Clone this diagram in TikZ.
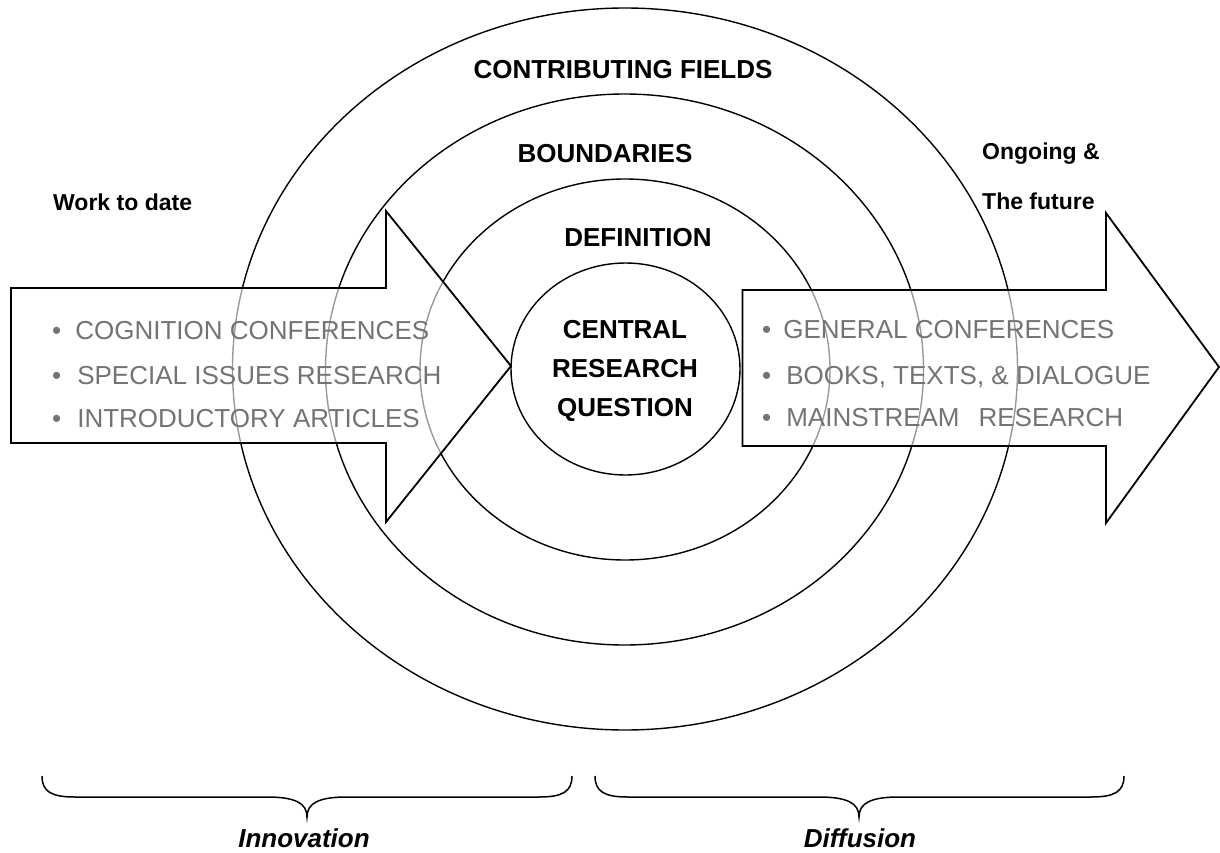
\documentclass[tikz,border=0pt]{standalone}
\usepackage{fontspec}
\setmainfont{Liberation Sans}
\begin{document}
\begin{tikzpicture}[x=1pt,y=-1pt,
  ring/.style={line width=1.4pt},
  bigarrow/.style={line width=1.8pt, line join=miter, fill=white, fill opacity=0.6},
  lbl/.style={font=\fontsize{26}{30}\selectfont\bfseries, inner sep=0pt},
  side/.style={font=\fontsize{23}{28}\selectfont\bfseries, inner sep=0pt, anchor=west},
  item/.style={font=\fontsize{26}{30}\selectfont, text=black!55, inner sep=0pt, anchor=base west},
  brace/.style={line width=1.5pt},
  bracelbl/.style={font=\fontsize{26}{30}\selectfont\bfseries\itshape, inner sep=0pt}
]
\useasboundingbox (0,0) rectangle (1220,853);
\fill[white] (0,0) rectangle (1220,853);

% concentric rings
\draw[ring] (625,369) ellipse [x radius=392.5pt, y radius=361pt];
\draw[ring] (624.5,369.5) ellipse [x radius=299pt, y radius=275.5pt];
\draw[ring] (625,369.5) ellipse [x radius=205pt, y radius=190.5pt];
\draw[ring] (625.5,369) ellipse [x radius=114.5pt, y radius=106pt];

% arrows
\coordinate (la1) at (11,288);
\coordinate (la2) at (386,288);
\coordinate (la3) at (386,211);
\coordinate (latip) at (511,366);
\coordinate (la5) at (386,522);
\coordinate (la6) at (386,443);
\coordinate (la7) at (11,443);
\draw[bigarrow] (la1) -- (la2) -- (la3) -- (latip) -- (la5) -- (la6) -- (la7) -- cycle;

\coordinate (ra1) at (742.5,290);
\coordinate (ra2) at (1106,290);
\coordinate (ra3) at (1106,213);
\coordinate (ratip) at (1219,367);
\coordinate (ra5) at (1106,523);
\coordinate (ra6) at (1106,446);
\coordinate (ra7) at (742.5,446);
\draw[bigarrow] (ra1) -- (ra2) -- (ra3) -- (ratip) -- (ra5) -- (ra6) -- (ra7) -- cycle;

% ring labels
\node[lbl] (cf) at (623,70) {CONTRIBUTING FIELDS};
\node[lbl] (bd) at (605,154) {BOUNDARIES};
\node[lbl] (df) at (638,238) {DEFINITION};
\node[lbl, align=center, font=\fontsize{26}{39}\selectfont\bfseries] (crq) at (625,371) {CENTRAL\\RESEARCH\\QUESTION};

% side labels
\node[side] (wtd) at (53,202) {Work to date};
\node[side] (ong) at (982,154) {Ongoing \&};
\node[side] (fut) at (982,201) {The future};

% bullet items
\node[item] (l1) at (52,339) {•\hspace{14pt}COGNITION CONFERENCES};
\node[item] (l2) at (52,384) {•\hspace{16pt}SPECIAL ISSUES RESEARCH};
\node[item] (l3) at (52,427) {•\hspace{16pt}INTRODUCTORY ARTICLES};
\node[item] (r1) at (762,338) {•\hspace{12pt}GENERAL CONFERENCES};
\node[item] (r2) at (762,384) {•\hspace{15pt}BOOKS, TEXTS, \& DIALOGUE};
\node[item] (r3) at (762,426) {•\hspace{15pt}MAINSTREAM\hspace{19pt}RESEARCH};

% braces
\coordinate (lbA) at (42,776);
\coordinate (lbT) at (307,817);
\coordinate (lbB) at (572,776);
\draw[brace] (lbA) .. controls (42,792) and (52,797) .. (75,797)
  -- (267,797) .. controls (295,797) and (307,803) .. (lbT)
  .. controls (307,803) and (319,797) .. (347,797)
  -- (539,797) .. controls (562,797) and (572,792) .. (lbB);
\coordinate (rbA) at (595,776);
\coordinate (rbT) at (859,817);
\coordinate (rbB) at (1124,776);
\draw[brace] (rbA) .. controls (595,792) and (605,797) .. (628,797)
  -- (819,797) .. controls (847,797) and (859,803) .. (rbT)
  .. controls (859,803) and (871,797) .. (899,797)
  -- (1091,797) .. controls (1114,797) and (1124,792) .. (rbB);

\node[bracelbl] (inn) at (304,838) {Innovation};
\node[bracelbl] (dif) at (860,838) {Diffusion};
\end{tikzpicture}
\end{document}
